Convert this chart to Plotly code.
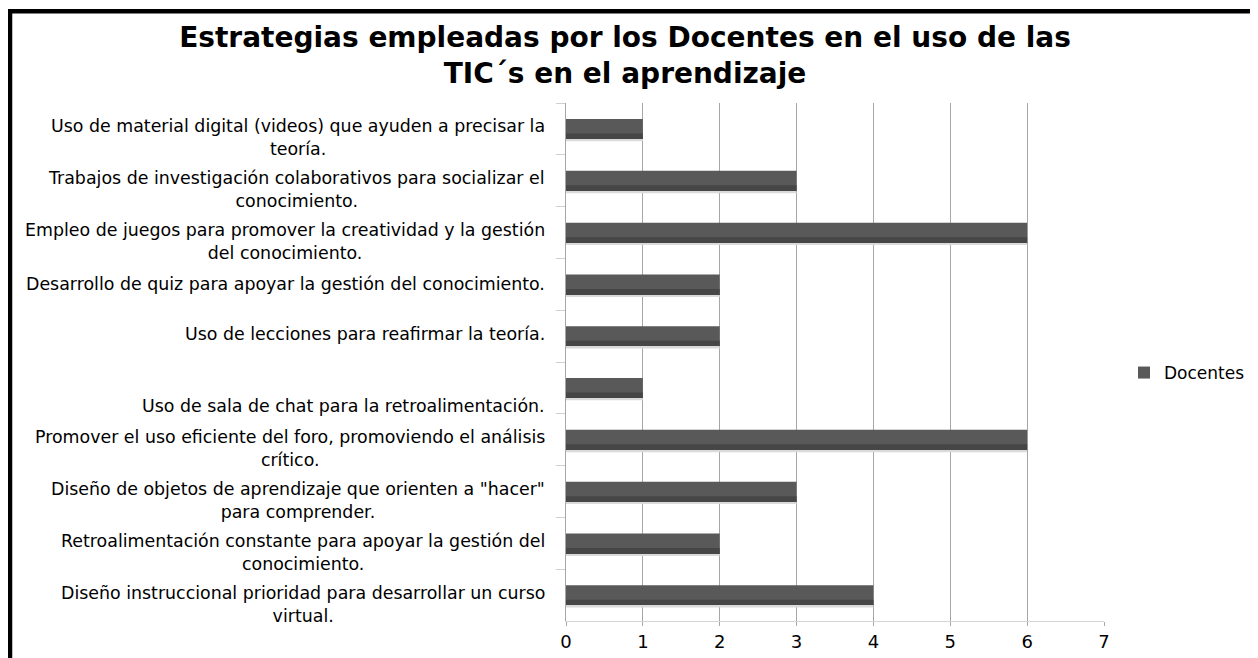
import plotly.graph_objects as go

# ---- data ----
categories = [
    "Uso de material digital (videos) que ayuden a precisar la\nteoría.",
    "Trabajos de investigación colaborativos para socializar el\nconocimiento.",
    "Empleo de juegos para promover la creatividad y la gestión\ndel conocimiento.",
    "Desarrollo de quiz para apoyar la gestión del conocimiento.",
    "Uso de lecciones para reafirmar la teoría.",
    "Uso de sala de chat para la retroalimentación.",
    "Promover el uso eficiente del foro, promoviendo el análisis\ncrítico.",
    "Diseño de objetos de aprendizaje que orienten a \"hacer\"\npara comprender.",
    "Retroalimentación constante para apoyar la gestión del\nconocimiento.",
    "Diseño instruccional prioridad para desarrollar un curso\nvirtual.",
]
docentes = [1, 3, 6, 2, 2, 1, 6, 3, 2, 4]
x_ticks = [0, 1, 2, 3, 4, 5, 6, 7]
series_name = "Docentes"
title_text = "Estrategias empleadas por los Docentes en el uso de las<br>TIC´s en el aprendizaje"

# ---- styling ----
label_yshift = [-9, -9, -9, 0, 2, -18, -9, -9, -9, -9]
FONT = "DejaVu Sans"
# the page body adds an 8px margin, so the figure is sized to fill the window
W, H = 1250, 650
L, R, T, B = 558, 154, 95, 37
pw, ph = W - L - R, H - T - B
n = len(categories)

fig = go.Figure()
fig.add_trace(go.Bar(
    y=categories, x=docentes, orientation="h", name=series_name,
    width=0.4, offset=-0.19, marker=dict(color="#595959", line=dict(width=0)),
    hoverinfo="x+y",
))
fig.add_trace(go.Bar(
    y=categories, x=docentes, orientation="h", showlegend=False,
    width=0.12, offset=0.09, marker=dict(color="#464646", line=dict(width=0)),
    hoverinfo="skip",
))
fig.add_trace(go.Bar(
    y=categories, x=docentes, orientation="h", showlegend=False,
    width=0.03, offset=0.21, marker=dict(color="#dadada", line=dict(width=0)),
    hoverinfo="skip",
))

annotations = []
for cat, dy in zip(categories, label_yshift):
    annotations.append(dict(
        text=cat.replace("\n", "<br>"), xref="paper", yref="y", x=0, y=cat,
        xanchor="right", yanchor="middle", xshift=-19, yshift=dy,
        align="center", showarrow=False,
        font=dict(family=FONT, size=17.4, color="#000000"),
    ))

fig.update_layout(
    width=W, height=H,
    margin=dict(l=L, r=R, t=T, b=B, pad=0, autoexpand=False),
    paper_bgcolor="white", plot_bgcolor="white",
    barmode="overlay",
    title=dict(text=title_text, x=617 / W, xanchor="center", xref="container",
               y=1 - 39 / H, yanchor="top", yref="container",
               font=dict(family=FONT, size=28, color="#000000", weight="bold")),
    xaxis=dict(range=[0, 7], tickvals=x_ticks, ticktext=[str(v) for v in x_ticks],
               showgrid=True, gridcolor="#a6a6a6", gridwidth=1,
               showline=True, linecolor="#d4d4d4", linewidth=1,
               ticks="outside", ticklen=4, tickcolor="#a6a6a6",
               tickfont=dict(family=FONT, size=18, color="#000000"),
               zeroline=False, fixedrange=True, automargin=False),
    yaxis=dict(range=[n - 0.5, -0.5], autorange=False, showticklabels=False,
               ticks="outside", tickson="boundaries", ticklen=9, tickcolor="#d0d0d0",
               showline=True, linecolor="#a6a6a6", linewidth=1,
               showgrid=False, zeroline=False, fixedrange=True, automargin=False),
    legend=dict(x=1116 / W, xref="container", xanchor="left",
                y=1 - 365 / H, yref="container", yanchor="middle",
                font=dict(family=FONT, size=17, color="#000000"),
                itemwidth=30, bgcolor="rgba(0,0,0,0)"),
    annotations=annotations,
    shapes=[dict(type="rect", xref="paper", yref="paper",
                 x0=(2 - L) / pw, x1=(W + 20 - L) / pw,
                 y0=-(B + 20) / ph, y1=1 + (T - 3.3) / ph,
                 line=dict(color="black", width=4.5), layer="above")],
    showlegend=True,
)

fig.write_html("out.html")
